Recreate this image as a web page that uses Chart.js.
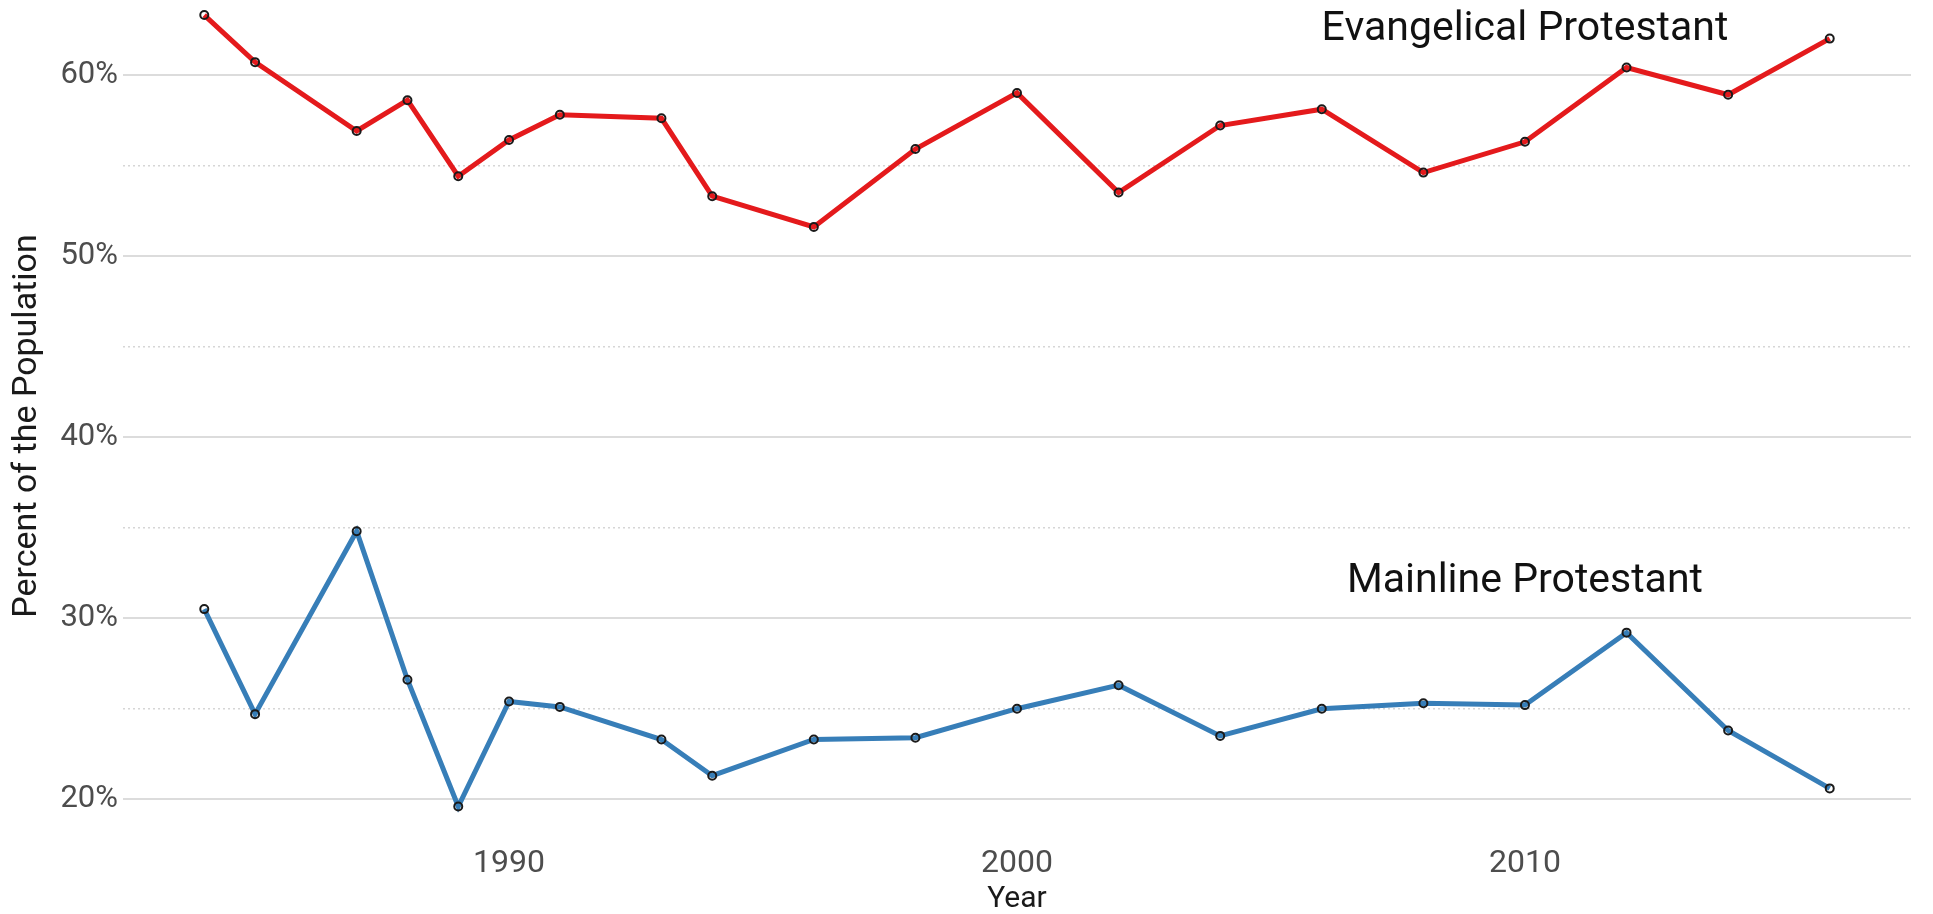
<!DOCTYPE html>
<html>
<head>
<meta charset="utf-8">
<script src="https://cdn.jsdelivr.net/npm/chart.js@4.4.1/dist/chart.umd.min.js"></script>
<style>
  html, body { margin: 0; padding: 0; background: #fff; }
  #wrap { width: 1933px; height: 914px; position: relative; }
</style>
</head>
<body>
<div id="wrap"><canvas id="chart"></canvas></div>
<script>

const years = [1984, 1985, 1987, 1988, 1989, 1990, 1991, 1993, 1994, 1996,
               1998, 2000, 2002, 2004, 2006, 2008, 2010, 2012, 2014, 2016]

const evangelical = [63.3, 60.7, 56.9, 58.6, 54.4, 56.4, 57.8, 57.6, 53.3, 51.6,
                     55.9, 59.0, 53.5, 57.2, 58.1, 54.6, 56.3, 60.4, 58.9, 62.0]

const mainline = [30.5, 24.7, 34.8, 26.6, 19.6, 25.4, 25.1, 23.3, 21.3, 23.3,
                  23.4, 25.0, 26.3, 23.5, 25.0, 25.3, 25.2, 29.2, 23.8, 20.6]

const yTicks = [20, 25, 30, 35, 40, 45, 50, 55, 60]
const xTicks = [1990, 2000, 2010]

// series labels written on the plot, in data units
const labelText = ["Evangelical Protestant", "Mainline Protestant"]
const labelYear = [2010, 2010]
const labelPct = [62.5, 32.0]

const FONT = "Roboto, 'Noto Sans', sans-serif"

const toPoints = (vals) => years.map((yr, i) => ({ x: yr, y: vals[i] }))

const seriesLabels = {
    id: 'seriesLabels',
    afterDatasetsDraw(chart) {
        const { ctx, scales } = chart
        ctx.save()
        ctx.font = `41px ${FONT}`
        ctx.fillStyle = '#111'
        ctx.textAlign = 'center'
        ctx.textBaseline = 'middle'
        labelText.forEach((t, i) => {
            ctx.fillText(t, scales.x.getPixelForValue(labelYear[i]), scales.y.getPixelForValue(labelPct[i]))
        })
        ctx.restore()
    }
}

const isMajor = (v) => v % 10 === 0

new Chart(document.getElementById('chart'), {
    type: 'line',
    data: {
        datasets: [{
            label: 'Evangelical Protestant',
            data: toPoints(evangelical),
            borderColor: '#e41a1c',
            borderWidth: 5,
            pointRadius: 4,
            pointBorderWidth: 2,
            pointBorderColor: '#1a1a1a',
            pointBackgroundColor: 'rgba(0,0,0,0)',
            tension: 0
        }, {
            label: 'Mainline Protestant',
            data: toPoints(mainline),
            borderColor: '#377eb8',
            borderWidth: 5,
            pointRadius: 4,
            pointBorderWidth: 2,
            pointBorderColor: '#1a1a1a',
            pointBackgroundColor: 'rgba(0,0,0,0)',
            tension: 0
        }]
    },
    options: {
        responsive: true,
        maintainAspectRatio: false,
        animation: false,
        layout: { padding: { left: 0, right: 22, top: 0, bottom: 0 } },
        plugins: {
            legend: { display: false },
            tooltip: { enabled: false }
        },
        scales: {
            x: {
                type: 'linear',
                min: 1982.4,
                max: 2017.6,
                afterBuildTicks: (scale) => { scale.ticks = xTicks.map(v => ({ value: v })) },
                afterFit: (scale) => { scale.height = 68 },
                grid: { display: false, drawTicks: false },
                border: { display: false },
                ticks: {
                    padding: 0,
                    color: '#4d4d4d',
                    font: { family: FONT, size: 32, lineHeight: 1.1 },
                    callback: (v) => String(v)
                },
                title: {
                    display: true,
                    text: 'Year',
                    color: '#1a1a1a',
                    font: { family: FONT, size: 30, lineHeight: 1 },
                    padding: { top: 0, bottom: 0 }
                }
            },
            y: {
                min: 17.42,
                max: 63.8,
                afterBuildTicks: (scale) => { scale.ticks = yTicks.map(v => ({ value: v })) },
                afterFit: (scale) => {
                    scale.width = 123
                    scale.paddingTop = 0
                    scale.paddingBottom = 0
                },
                grid: {
                    drawTicks: false,
                    color: (c) => isMajor(c.tick.value) ? '#dcdcdc' : '#d6d6d6',
                    lineWidth: (c) => isMajor(c.tick.value) ? 2 : 1.5
                },
                border: {
                    display: false,
                    dash: (c) => isMajor(c.tick.value) ? [] : [2, 3]
                },
                ticks: {
                    padding: 5,
                    color: '#4d4d4d',
                    font: { family: FONT, size: 31 },
                    callback: (v) => isMajor(v) ? v + '%' : ''
                },
                title: {
                    display: true,
                    text: 'Percent of the Population',
                    color: '#1a1a1a',
                    font: { family: FONT, size: 34, lineHeight: 1 },
                    padding: { top: 10, bottom: 0 }
                }
            }
        }
    },
    plugins: [seriesLabels]
})
</script>
</body>
</html>
